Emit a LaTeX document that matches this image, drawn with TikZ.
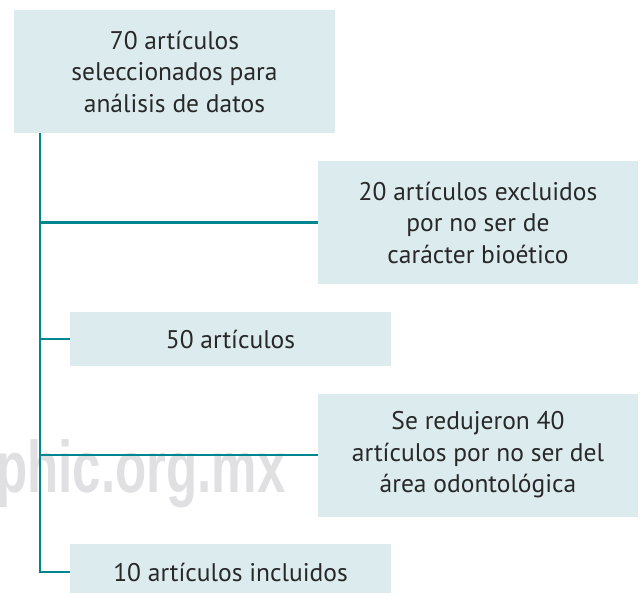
\documentclass[tikz,border=0pt]{standalone}
\usepackage{fontspec}
\setmainfont{PT Sans}
\newfontfamily\markfont{Liberation Sans}
\usetikzlibrary{positioning}
\definecolor{boxfill}{RGB}{220, 235, 238}
\definecolor{trunkteal}{RGB}{0, 134, 143}
\definecolor{textgray}{RGB}{40, 40, 40}
\definecolor{markgray}{RGB}{224, 224, 226}

\begin{document}
\begin{tikzpicture}[x=1pt, y=-1pt,
    stage/.style={rectangle, fill=boxfill, minimum width=321pt, inner sep=0pt, align=center, text=textgray, font=\fontsize{25.5}{31.5}\selectfont},
    tall/.style={stage, minimum height=123pt},
    flat/.style={stage, minimum height=54pt},
    link/.style={draw=trunkteal, line width=2.4pt}
]
    \useasboundingbox (0,0) rectangle (640,592);

    % watermark
    \node[text=markgray, font=\markfont\bfseries\fontsize{73}{73}\selectfont, xscale=0.7, anchor=base west, inner sep=0pt] (mark) at (-4,492) {phic.org.mx};

    % Stages
    \node[tall] (total) at (174.5,71.5) {70 artículos\\seleccionados para\\análisis de datos};
    \node[tall, minimum width=320pt] (excl1) at (478,222.5) {20 artículos excluidos\\por no ser de\\carácter bioético};
    \node[flat] (mid) at (230.5,339) {50 artículos};
    \node[tall, minimum width=320pt] (excl2) at (478,455) {Se redujeron 40\\artículos por no ser del\\área odontológica};
    \node[flat, minimum height=56pt] (final) at (230.5,572) {10 artículos incluidos};

    % Trunk
    \coordinate (top) at (40,133);
    \coordinate (bot) at (40,572);
    \draw[link] (top) -- (bot) -- (final.west);
    \draw[link] (top |- excl1.west) -- (excl1.west);
    \draw[link] (top |- mid.west) -- (mid.west);
    \draw[link] (top |- excl2.west) -- (excl2.west);
\end{tikzpicture}
\end{document}
